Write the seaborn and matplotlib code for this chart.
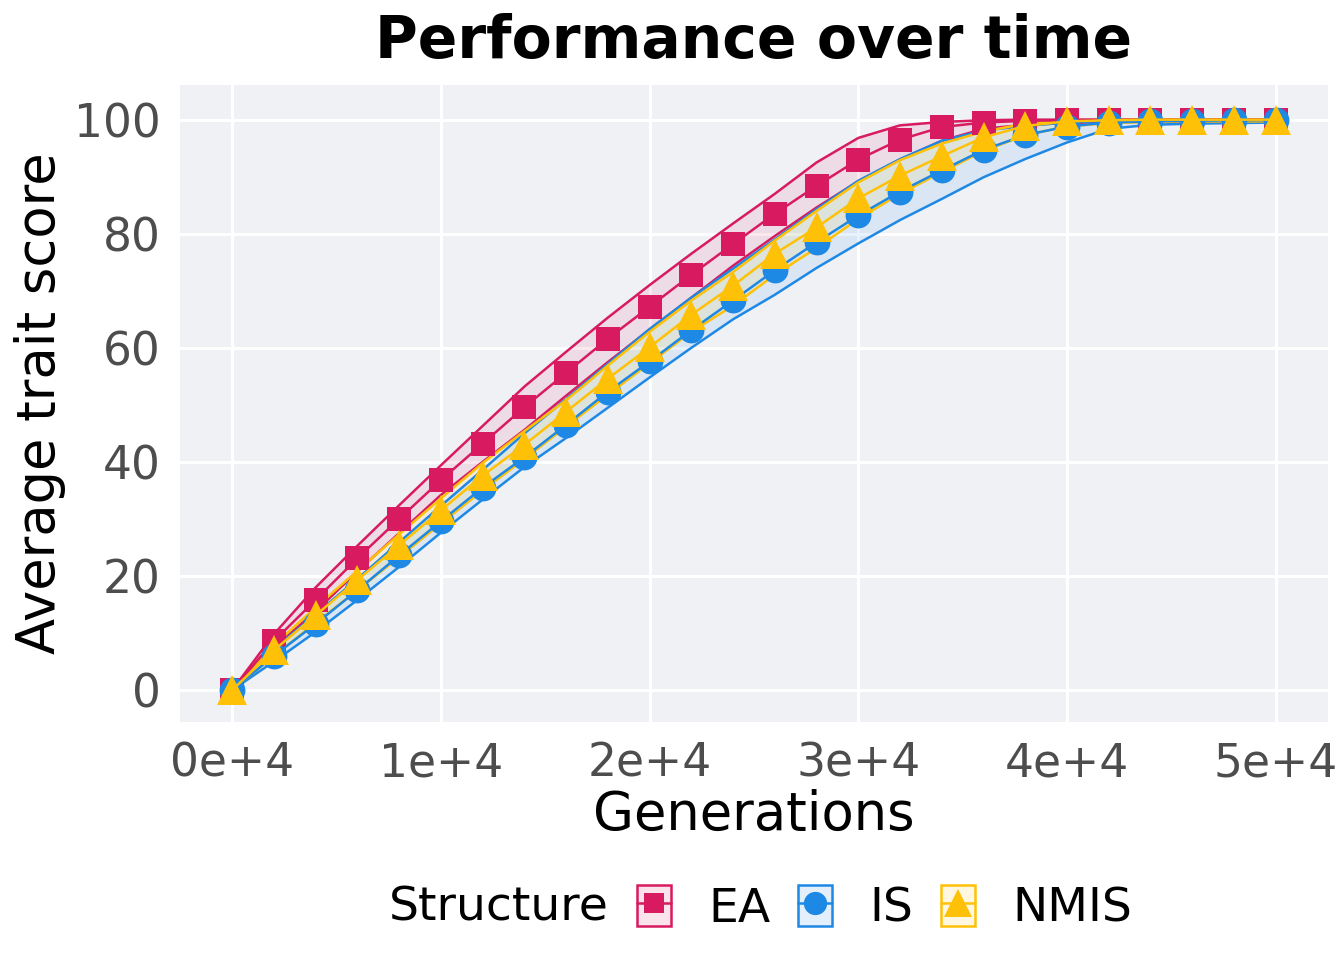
import numpy as np
import pandas as pd
import matplotlib.pyplot as plt
import seaborn as sns
from matplotlib.lines import Line2D
from matplotlib.patches import Patch
from matplotlib.colors import to_rgba

# ---------------------------------------------------------
# data (one value every 2000 generations)
# ---------------------------------------------------------
generations = list(range(0, 50001, 2000))

ea_mean = [0, 8.6, 15.8, 23.1, 30.0, 36.8, 43.2, 49.6, 55.6, 61.6, 67.2, 72.8, 78.2,
           83.5, 88.4, 93.0, 96.5, 98.7, 99.5, 99.8, 99.9, 100, 100, 100, 100, 100]
ea_low = [0, 7.4, 13.8, 20.8, 27.5, 34.2, 40.0, 45.6, 51.6, 57.5, 63.2, 68.8, 74.4,
          79.6, 84.6, 89.2, 93.0, 96.3, 98.4, 99.1, 99.4, 99.6, 99.6, 99.6, 99.6, 99.6]
ea_high = [0, 9.8, 18.0, 25.3, 32.4, 39.4, 46.3, 53.2, 59.3, 65.3, 71.0, 76.5, 81.8,
           87.0, 92.5, 96.8, 99.0, 99.6, 99.9, 100, 100, 100, 100, 100, 100, 100]

is_mean = [0, 6.0, 11.6, 17.5, 23.6, 29.6, 35.5, 40.8, 46.5, 52.3, 57.6, 63.1, 68.3,
           73.6, 78.5, 83.2, 87.4, 91.1, 94.7, 97.3, 98.8, 99.5, 99.7, 99.8, 99.9, 99.9]
is_low = [0, 5.0, 10.2, 15.8, 21.6, 27.6, 33.4, 39.1, 44.2, 49.5, 54.8, 60.0, 65.0,
          69.3, 74.0, 78.3, 82.4, 86.1, 89.9, 93.1, 96.0, 98.4, 99.1, 99.3, 99.4, 99.5]
is_high = [0, 7.2, 13.3, 19.5, 25.9, 32.3, 38.6, 45.0, 51.0, 57.2, 63.3, 68.8, 73.9,
           79.0, 84.3, 89.3, 93.1, 96.3, 98.1, 98.9, 99.5, 99.8, 99.9, 100, 100, 100]

nmis_mean = [0, 7.0, 13.1, 19.3, 25.4, 31.5, 37.6, 43.0, 48.8, 54.6, 60.1, 65.8, 70.9,
             76.5, 81.1, 86.2, 90.2, 93.6, 96.9, 98.9, 99.7, 99.9, 100, 100, 100, 100]
nmis_low = [0, 6.0, 11.8, 17.5, 23.3, 29.2, 35.0, 40.5, 46.2, 51.8, 57.3, 62.8, 67.4,
            72.8, 77.5, 82.6, 87.0, 90.8, 94.5, 97.3, 98.8, 99.4, 99.6, 99.7, 99.7, 99.7]
nmis_high = [0, 7.9, 14.5, 20.9, 27.3, 33.6, 39.8, 45.4, 50.8, 56.9, 62.8, 68.3, 73.3,
             78.8, 84.0, 89.0, 92.9, 95.8, 97.9, 99.3, 99.8, 100, 100, 100, 100, 100]

structures = ["EA", "IS", "NMIS"]
colors = {"EA": "#D81B60", "IS": "#1E88E5", "NMIS": "#FFC107"}
markers = {"EA": "s", "IS": "o", "NMIS": "^"}
msizes = {"EA": 8.3, "IS": 9.3, "NMIS": 11}

xtick_vals = [0, 10000, 20000, 30000, 40000, 50000]
xtick_labels = ["0e+4", "1e+4", "2e+4", "3e+4", "4e+4", "5e+4"]
ytick_vals = [0, 20, 40, 60, 80, 100]

means = {"EA": ea_mean, "IS": is_mean, "NMIS": nmis_mean}
lows = {"EA": ea_low, "IS": is_low, "NMIS": nmis_low}
highs = {"EA": ea_high, "IS": is_high, "NMIS": nmis_high}

df = pd.concat([
    pd.DataFrame({"Generations": generations, "score": means[s],
                  "low": lows[s], "high": highs[s], "Structure": s})
    for s in structures
], ignore_index=True)

# ---------------------------------------------------------
# plot
# ---------------------------------------------------------
sns.set_theme(style="darkgrid", rc={
    "axes.facecolor": "#F0F1F5",
    "grid.color": "white",
    "grid.linewidth": 1.1,
    "text.color": "black",
    "axes.labelcolor": "black",
})
plt.rcParams["font.family"] = ["DejaVu Sans"]

fig = plt.figure(figsize=(6.72, 4.8), dpi=200)
ax = fig.add_axes([0.134, 0.248, 0.854, 0.663])

# ribbons with coloured borders
for s in structures:
    sub = df[df["Structure"] == s]
    c = colors[s]
    ax.fill_between(sub["Generations"], sub["low"], sub["high"],
                    color=c, alpha=0.1, linewidth=0, zorder=2)
    ax.plot(sub["Generations"], sub["low"], color=c, lw=0.9, zorder=3)
    ax.plot(sub["Generations"], sub["high"], color=c, lw=0.9, zorder=3)

# mean lines with markers
for s in structures:
    sns.lineplot(data=df[df["Structure"] == s], x="Generations", y="score",
                 color=colors[s], marker=markers[s], markersize=msizes[s],
                 markeredgewidth=0, lw=0.9, ax=ax, zorder=4, legend=False)

ax.set_xlim(-2500, 52500)
ax.set_ylim(-5.6, 106)
ax.set_xticks(xtick_vals)
ax.set_xticklabels(xtick_labels)
ax.set_yticks(ytick_vals)
ax.tick_params(axis="both", labelsize=16.4, colors="#4D4D4D", length=4,
               width=0.8, pad=3)
ax.tick_params(axis="both", which="both", color="#333333")
for sp in ax.spines.values():
    sp.set_visible(False)

ax.set_xlabel("Generations", fontsize=19, color="black", labelpad=1)
ax.set_ylabel("Average trait score", fontsize=19, color="black", labelpad=3)
ax.set_title("Performance over time", fontsize=21, fontweight="bold",
             color="black", pad=10)

# legend at the bottom, keys drawn as ribbon box + line + marker
handles = []
for s in structures:
    c = colors[s]
    box = Patch(facecolor=to_rgba(c, 0.12), edgecolor=c, linewidth=0.9)
    ln = Line2D([], [], color=c, lw=0.9, marker=markers[s],
                markersize=msizes[s] * 0.9, markeredgewidth=0)
    handles.append((box, ln))

fig.text(0.289, 0.054, "Structure", fontsize=17, va="center", ha="left",
         color="black")
fig.legend(handles, structures, loc="center left", bbox_to_anchor=(0.474, 0.054),
           ncol=3, frameon=False, fontsize=17, handlelength=0.72, handleheight=0.98,
           handletextpad=0.8, columnspacing=0.57, borderaxespad=0, borderpad=0)

fig.savefig("out.png", dpi=200)
